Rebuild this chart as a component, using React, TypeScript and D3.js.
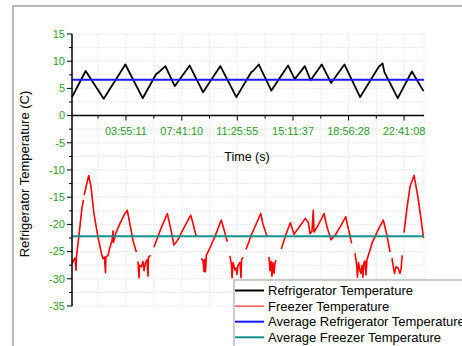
import * as d3 from "d3";

// time axis (hours since midnight) and labels
const xDomain: [number, number] = [0.28, 24.03];
const xTickLabels = ["03:55:11", "07:41:10", "11:25:55", "15:11:37", "18:56:28", "22:41:08"];
const yTicks = [15, 10, 5, 0, -5, -10, -15, -20, -25, -30, -35];

const avgFridge = 6.6;
const avgFreezer = -22.2;

// [hour, temperature]
const fridgeSeries: [number, number][] = [
  [0.28, 3.4], [1.2, 8.2], [2.42, 3.1], [3.88, 9.4], [5.05, 3.2], [5.97, 7.7],
  [6.1, 7.9], [6.58, 9.1], [7.21, 5.4], [8.22, 9.2], [9.12, 4.3], [10.29, 9.1],
  [11.37, 3.4], [12.38, 8.0], [12.5, 8.2], [12.88, 9.4], [13.73, 4.6], [14.86, 9.2],
  [15.31, 6.7], [15.99, 9.1], [16.38, 6.5], [17.13, 9.4], [17.76, 6.0], [18.66, 9.4],
  [19.72, 3.4], [20.96, 8.9], [21.23, 9.6], [21.36, 8.0], [22.26, 3.2], [23.21, 8.1],
  [24.0, 4.5],
];

const freezerSeries: [number, number | null][] = [
  [0.28, -27.2], [0.38, -26.6], [0.48, -26.2], [0.55, -28.4], [0.58, -26.0], [0.75, -22],
  [0.95, -17], [1.05, -15.5], [1.06, null], [1.1, -14.6], [1.41, -11.0], [1.56, -13],
  [1.76, -18], [2.03, -22.3], [2.24, -25], [2.37, -26.3], [2.47, -26.0], [2.54, -28.9],
  [2.57, -26.0], [2.71, -25.7], [2.84, -24.2], [2.98, -23], [3.05, -21.2], [3.08, -23.3],
  [3.25, -21.5], [3.52, -19.8], [3.79, -18.3], [4.01, -17.4], [4.19, -20], [4.4, -23],
  [4.62, -25.1], [4.67, null], [4.73, -26.8], [4.8, -29.8], [4.83, -27.5], [4.96, -27.8],
  [5.07, -26.8], [5.14, -28.5], [5.24, -27.0], [5.34, -26.5], [5.41, -29.5], [5.44, -26.0],
  [5.59, -25.7], [5.7, null], [5.81, -24.2], [6.22, -21.2], [6.71, -18.0], [6.96, -21],
  [7.16, -23.8], [7.43, -22.8], [7.84, -20.6], [8.29, -18.3], [8.44, -19.8], [8.67, -22.3],
  [8.8, null], [9.0, -26.3], [9.12, -26.6], [9.19, -28.7], [9.23, -26.4], [9.29, -28.7],
  [9.34, -25.7], [9.59, -24.3], [9.93, -22.2], [10.35, -19.2], [10.54, -21], [10.76, -23.2],
  [10.85, null], [10.94, -25.8], [11.04, -27.5], [11.08, -29.8], [11.14, -27.0], [11.28, -28.4],
  [11.35, -28.0], [11.41, -29.2], [11.48, -27.5], [11.62, -27.0], [11.68, -29.8], [11.72, -26.5],
  [11.82, -26.0], [11.9, null], [12.02, -24.6], [12.43, -21.6], [12.76, -19.6], [13.01, -18.0],
  [13.17, -20], [13.46, -22.3], [13.5, null], [13.57, -26], [13.64, -28.5], [13.71, -26.8],
  [13.77, -29.5], [13.84, -27], [13.91, -29.0], [13.98, -27], [14.06, -26.6], [14.2, null],
  [14.4, -24.5], [14.72, -21.8], [15.01, -19.7], [15.26, -21.8], [15.66, -20.3], [16.02, -18.9],
  [16.22, -19.6], [16.34, -21.7], [16.47, -21.3], [16.56, -17.4], [16.61, -21.4], [16.88, -20.2],
  [17.28, -18.0], [17.49, -20.5], [17.76, -22.8], [18.03, -22], [18.36, -20.5], [18.75, -18.6],
  [18.9, -20.5], [19.15, -23.5], [19.25, null], [19.37, -25.3], [19.49, -27.5], [19.54, -29.7],
  [19.61, -27.0], [19.71, -28.5], [19.78, -29.0], [19.85, -27.5], [19.91, -29.7], [19.98, -27.0],
  [20.05, -26.7], [20.12, -29.3], [20.18, -26.5], [20.27, -25.7], [20.52, -23.5], [20.93, -21],
  [21.28, -19.2], [21.53, -22], [21.74, -25.1], [21.8, null], [21.87, -26.2], [21.96, -27.8],
  [22.04, -29.0], [22.14, -27.8], [22.28, -28], [22.41, -29.0], [22.48, -28.3], [22.52, -27],
  [22.56, -25.7], [22.62, null], [22.68, -21.5], [22.88, -17], [23.09, -13], [23.36, -11.0],
  [23.62, -15], [23.83, -19], [24.0, -22.5],
];

const legendItems = [
  { label: "Refrigerator Temperature", color: "#000000", width: 2 },
  { label: "Freezer Temperature", color: "#ff0000", width: 1 },
  { label: "Average Refrigerator Temperature", color: "#1a1aff", width: 2 },
  { label: "Average Freezer Temperature", color: "#17918a", width: 2 },
];

const toHours = (s: string) => {
  const [h, m, sec] = s.split(":").map(Number);
  return h + m / 60 + sec / 3600;
};

const W = 462;
const H = 346;
const left = 72;
const right = 424;
const top = 34;
const bottom = 306;
const green = "#2e9b2e";
const font = "'Liberation Sans', Arial, sans-serif";

export default function App() {
  const x = d3.scaleLinear().domain(xDomain).range([left, right]);
  const y = d3.scaleLinear().domain([-35, 15]).range([bottom, top]);

  const majorX = xTickLabels.map(toHours);
  const step = majorX[1] - majorX[0];
  const minorX = [majorX[0] - step / 2, ...majorX.slice(0, -1).map((v, i) => (v + majorX[i + 1]) / 2)];
  const gridX = [...majorX, ...minorX];
  const gridY = d3.range(-35, 15.01, 2.5);

  const fridgeLine = d3
    .line<[number, number]>()
    .x((d) => x(d[0]))
    .y((d) => y(d[1]));
  const freezerLine = d3
    .line<[number, number | null]>()
    .defined((d) => d[1] !== null)
    .x((d) => x(d[0]))
    .y((d) => y(d[1] as number));

  const y0 = y(0);

  return (
    <svg
      width={W}
      height={H}
      style={{ position: "absolute", left: 0, top: 0, background: "#fff" }}
      fontFamily={font}
    >
      {/* outer frame */}
      <rect x={13} y={6} width={470} height={360} fill="none" stroke="#a0a0a0" strokeWidth={1.5} />

      {/* grid */}
      <g stroke="#e8e8e8" strokeWidth={1} strokeDasharray="2,1">
        {gridY.map((v) => (
          <line key={"gy" + v} x1={left} x2={right} y1={y(v)} y2={y(v)} />
        ))}
        {gridX.map((v) => (
          <line key={"gx" + v} x1={x(v)} x2={x(v)} y1={top} y2={bottom} />
        ))}
        <line x1={right} x2={right} y1={top} y2={bottom} />
      </g>

      {/* series */}
      <path d={fridgeLine(fridgeSeries) ?? ""} fill="none" stroke="#000" strokeWidth={1.8} strokeLinejoin="round" />
      <path d={freezerLine(freezerSeries) ?? ""} fill="none" stroke="#ff0000" strokeWidth={1.6} strokeLinejoin="round" />
      <line x1={left} x2={right} y1={y(avgFridge)} y2={y(avgFridge)} stroke="#1a1aff" strokeWidth={2} />
      <line x1={left} x2={right} y1={y(avgFreezer)} y2={y(avgFreezer)} stroke="#17918a" strokeWidth={2} />

      {/* y axis */}
      <line x1={left} x2={left} y1={top} y2={bottom} stroke="#000" strokeWidth={1.5} />
      {gridY.map((v) => (
        <line
          key={"yt" + v}
          x1={left}
          x2={left - (v % 5 === 0 ? 5 : 3)}
          y1={y(v)}
          y2={y(v)}
          stroke="#000"
          strokeWidth={1}
        />
      ))}
      {yTicks.map((v) => (
        <text key={"yl" + v} x={left - 7} y={y(v)} dy="0.35em" textAnchor="end" fontSize={11} fill={green}>
          {v}
        </text>
      ))}

      {/* x axis at y = 0 */}
      <line x1={left} x2={right} y1={y0} y2={y0} stroke="#000" strokeWidth={1.5} />
      {majorX.map((v) => (
        <line key={"xt" + v} x1={x(v)} x2={x(v)} y1={y0} y2={y0 + 5} stroke="#000" strokeWidth={1} />
      ))}
      {minorX.map((v) => (
        <line key={"xm" + v} x1={x(v)} x2={x(v)} y1={y0} y2={y0 + 3} stroke="#000" strokeWidth={1} />
      ))}
      {majorX.map((v, i) => (
        <text key={"xl" + v} x={x(v)} y={y0 + 19} textAnchor="middle" fontSize={11} fill={green}>
          {xTickLabels[i]}
        </text>
      ))}
      <text x={247} y={161} textAnchor="middle" fontSize={12.5} fill="#000">
        Time (s)
      </text>

      {/* y title */}
      <text
        transform={`translate(29, ${(top + bottom) / 2 + 4}) rotate(-90)`}
        textAnchor="middle"
        fontSize={13}
        fill="#000"
      >
        Refrigerator Temperature (C)
      </text>

      {/* legend */}
      <rect x={234} y={280} width={240} height={80} fill="#fff" stroke="#9a9a9a" strokeWidth={1} />
      {legendItems.map((d, i) => {
        const ly = 290.5 + i * 15.6;
        return (
          <g key={d.label}>
            <line x1={235} x2={264} y1={ly} y2={ly} stroke={d.color} strokeWidth={d.width} />
            <text x={268} y={ly} dy="0.36em" fontSize={13} fill="#000">
              {d.label}
            </text>
          </g>
        );
      })}
    </svg>
  );
}
